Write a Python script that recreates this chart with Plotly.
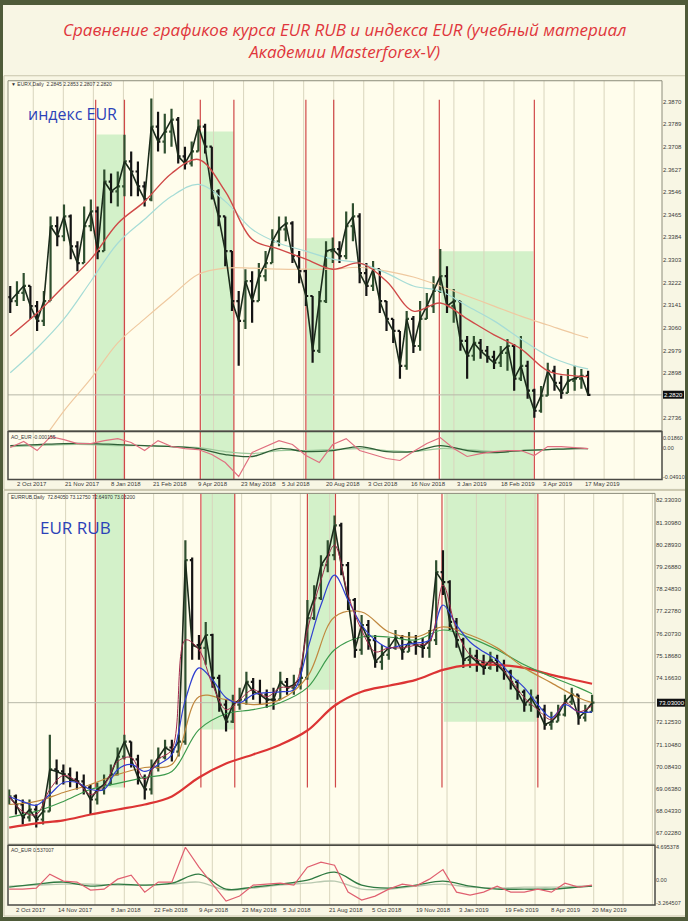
import pandas as pd
import plotly.graph_objects as go

W, H = 688, 921

# ---------------- data ----------------
weeks = pd.date_range("2017-09-27", periods=87, freq="7D")
ma_dates = list(weeks[::4]) + [weeks[86]]
even_dates = list(weeks[::2])

# EUR index (weekly sampled)
eur_first_open = 2.3170
eur_close = [2.3156, 2.3185, 2.3210, 2.3138, 2.3085, 2.3156, 2.3424, 2.3388, 2.3459, 2.3352,
             2.3292, 2.3424, 2.3477, 2.3335, 2.3584, 2.3549, 2.3567, 2.3656, 2.3620, 2.3567,
             2.3520, 2.3781, 2.3727, 2.3763, 2.3806, 2.3674, 2.3649, 2.3692, 2.3781, 2.3709,
             2.3549, 2.3459, 2.3335, 2.3156, 2.3085, 2.3227, 2.3156, 2.3245, 2.3292, 2.3370,
             2.3413, 2.3434, 2.3317, 2.3263, 2.3174, 2.2978, 2.3156, 2.3335, 2.3342, 2.3317,
             2.3424, 2.3459, 2.3256, 2.3210, 2.3270, 2.3156, 2.3092, 2.3049, 2.2924, 2.3092,
             2.2995, 2.3092, 2.3138, 2.3192, 2.3245, 2.3138, 2.3156, 2.3013, 2.2960, 2.3006,
             2.2978, 2.2956, 2.2935, 2.2970, 2.2995, 2.2878, 2.2924, 2.2835, 2.2763, 2.2817,
             2.2906, 2.2863, 2.2827, 2.2870, 2.2878, 2.2888, 2.2820]
eur_high = [2.3210, 2.3227, 2.3256, 2.3210, 2.3156, 2.3192, 2.3459, 2.3459, 2.3502, 2.3466,
            2.3370, 2.3495, 2.3520, 2.3495, 2.3627, 2.3613, 2.3620, 2.3752, 2.3692, 2.3656,
            2.3584, 2.3881, 2.3834, 2.3827, 2.3845, 2.3815, 2.3709, 2.3727, 2.3806, 2.3791,
            2.3709, 2.3556, 2.3459, 2.3335, 2.3192, 2.3270, 2.3263, 2.3292, 2.3335, 2.3413,
            2.3459, 2.3459, 2.3442, 2.3335, 2.3270, 2.3174, 2.3192, 2.3370, 2.3384, 2.3370,
            2.3477, 2.3506, 2.3470, 2.3292, 2.3299, 2.3270, 2.3156, 2.3092, 2.3049, 2.3120,
            2.3102, 2.3156, 2.3185, 2.3245, 2.3342, 2.3281, 2.3199, 2.3156, 2.3031, 2.3031,
            2.3020, 2.2995, 2.2978, 2.2995, 2.3020, 2.3002, 2.3031, 2.2942, 2.2842, 2.2852,
            2.2935, 2.2924, 2.2888, 2.2913, 2.2924, 2.2913, 2.2906]
eur_low = [2.3113, 2.3138, 2.3156, 2.3092, 2.3049, 2.3067, 2.3156, 2.3352, 2.3370, 2.3306,
           2.3263, 2.3292, 2.3406, 2.3306, 2.3335, 2.3506, 2.3495, 2.3531, 2.3531, 2.3531,
           2.3495, 2.3513, 2.3692, 2.3684, 2.3709, 2.3649, 2.3627, 2.3638, 2.3692, 2.3684,
           2.3520, 2.3424, 2.3281, 2.3120, 2.2924, 2.3056, 2.3078, 2.3156, 2.3227, 2.3292,
           2.3352, 2.3370, 2.3292, 2.3220, 2.3138, 2.2935, 2.2970, 2.3149, 2.3292, 2.3292,
           2.3306, 2.3370, 2.3220, 2.3174, 2.3192, 2.3113, 2.3049, 2.3006, 2.2878, 2.2910,
           2.2970, 2.2978, 2.3092, 2.3113, 2.3185, 2.3113, 2.3078, 2.2978, 2.2878, 2.2942,
           2.2949, 2.2935, 2.2913, 2.2920, 2.2906, 2.2835, 2.2870, 2.2806, 2.2738, 2.2756,
           2.2817, 2.2835, 2.2806, 2.2827, 2.2835, 2.2842, 2.2817]
eur_ma_red = [2.3031, 2.3113, 2.3210, 2.3306, 2.3434, 2.3513, 2.3613, 2.3663, 2.3549, 2.3377,
              2.3342, 2.3306, 2.3270, 2.3292, 2.3227, 2.3120, 2.3149, 2.3092, 2.3035, 2.2985,
              2.2906, 2.2888, 2.2885]
eur_ma_cyan = [2.2899, 2.2988, 2.3092, 2.3227, 2.3363, 2.3449, 2.3531, 2.3574, 2.3513, 2.3413,
               2.3363, 2.3335, 2.3306, 2.3292, 2.3256, 2.3210, 2.3192, 2.3138, 2.3085, 2.3020,
               2.2960, 2.2924, 2.2913]
eur_ma_tan = [2.2628, 2.2763, 2.2878, 2.3006, 2.3092, 2.3174, 2.3252, 2.3274, 2.3274, 2.3270,
              2.3270, 2.3270, 2.3277, 2.3263, 2.3242, 2.3210, 2.3174, 2.3138, 2.3102, 2.3070,
              2.3038, 2.3024]
eur_osc_fast = [0.0017, 0.0119, -0.0034, 0.0203, 0.0152, 0.0085, 0.0085, 0.0135, 0.0169, 0.0102,
                -0.0034, 0.0135, 0.0034, 0.0, -0.0017, -0.0102, -0.0237, -0.0474, -0.0068, 0.0034,
                0.0135, 0.0068, -0.0119, -0.0237, 0.0068, 0.0169, -0.0034, -0.0102, -0.0169, -0.0203,
                -0.0051, 0.0085, 0.0186, 0.0, -0.0135, -0.0085, -0.0051, -0.0034, -0.0034, -0.0119,
                0.0034, 0.0034, 0.0017, 0.0]
eur_osc_slow = [0.0051, 0.0068, 0.0085, 0.0085, 0.0068, 0.0051, 0.0034, 0.0, -0.0102, -0.0135,
                0.0, -0.0051, -0.0034, 0.0034, -0.0051, -0.0051, 0.0051, -0.0034, -0.0068, -0.0034,
                -0.0017, 0.0, 0.0]
eur_osc_sig = [0.0034, 0.0051, 0.0068, 0.0068, 0.0051, 0.0051, 0.0034, 0.0017, -0.0051, -0.0085,
               -0.0034, -0.0034, -0.0017, 0.0, -0.0034, -0.0051, 0.0, -0.0017, -0.0051, -0.0034,
               -0.0017, 0.0, 0.0]

# EUR RUB (weekly sampled)
rub_first_open = 68.50
rub_close = [68.72, 68.35, 67.76, 68.12, 67.66, 68.03, 69.96, 69.87, 69.73, 69.50,
             69.41, 69.14, 68.58, 69.04, 69.27, 69.73, 70.55, 71.24, 70.42, 69.59,
             69.04, 70.05, 70.51, 70.97, 70.78, 71.24, 79.58, 75.68, 75.55, 76.14,
             74.17, 72.94, 72.16, 72.94, 73.17, 73.99, 73.53, 73.40, 73.17, 73.17,
             73.99, 73.72, 73.85, 74.17, 76.92, 77.84, 79.35, 79.81, 81.18, 79.35,
             77.75, 75.46, 76.60, 75.91, 74.91, 75.23, 75.55, 76.01, 75.37, 75.82,
             75.68, 75.55, 75.91, 79.03, 78.57, 76.74, 75.91, 75.00, 75.18, 74.91,
             74.63, 75.00, 74.77, 74.45, 73.99, 73.53, 72.94, 73.26, 72.71, 72.02,
             72.16, 72.48, 73.07, 73.40, 72.34, 72.61, 73.03]
rub_high = [69.04, 68.81, 68.58, 68.58, 68.35, 68.58, 71.56, 70.42, 70.19, 70.05,
            69.87, 69.73, 69.27, 69.36, 69.73, 70.19, 70.97, 71.56, 71.24, 70.64,
            69.73, 70.42, 70.97, 71.33, 71.33, 71.56, 80.50, 79.70, 76.14, 76.74,
            76.20, 74.31, 73.17, 73.40, 73.72, 74.45, 74.17, 74.08, 73.63, 73.72,
            74.45, 74.17, 74.31, 74.63, 77.75, 78.43, 79.81, 80.50, 81.64, 81.30,
            79.50, 77.84, 77.06, 76.83, 76.14, 75.68, 76.01, 76.37, 76.14, 76.28,
            76.14, 76.01, 76.37, 79.58, 80.04, 78.66, 76.92, 76.01, 75.55, 75.46,
            75.23, 75.37, 75.23, 75.00, 74.54, 74.08, 73.63, 73.63, 73.40, 72.94,
            72.61, 72.94, 73.40, 73.72, 73.40, 72.94, 73.40]
rub_low = [68.35, 67.89, 67.43, 67.57, 67.29, 67.43, 68.03, 69.27, 69.27, 69.14,
           69.04, 68.81, 67.89, 68.35, 68.81, 69.27, 69.68, 70.42, 70.05, 69.27,
           68.58, 68.81, 69.87, 70.42, 70.33, 70.55, 71.10, 75.00, 75.00, 74.77,
           73.72, 72.61, 71.70, 72.10, 72.71, 72.94, 73.17, 72.94, 72.80, 72.71,
           73.17, 73.40, 73.40, 73.63, 74.08, 76.83, 77.75, 79.03, 79.58, 78.89,
           77.29, 75.09, 75.23, 75.46, 74.63, 74.54, 75.00, 75.46, 75.00, 75.37,
           75.23, 75.09, 75.09, 75.68, 77.98, 76.37, 75.55, 74.63, 74.63, 74.45,
           74.31, 74.54, 74.45, 74.08, 73.63, 73.17, 72.61, 72.61, 72.34, 71.79,
           71.79, 72.16, 72.40, 72.94, 72.02, 72.16, 72.61]
rub_ma200 = [67.29, 67.48, 67.62, 67.89, 68.12, 68.35, 68.72, 69.59, 70.23, 70.65,
             71.10, 71.75, 72.89, 73.53, 73.81, 74.08, 74.54, 74.77, 74.77, 74.63,
             74.31, 74.04, 73.90]
rub_ma100 = [67.76, 68.03, 68.49, 69.04, 69.32, 69.59, 69.87, 71.79, 72.52, 72.71,
             73.03, 73.72, 75.46, 76.05, 76.05, 75.91, 76.37, 76.01, 75.46, 74.77,
             74.22, 73.72, 73.44]
rub_ma50 = [68.35, 68.49, 68.90, 69.27, 69.73, 70.05, 70.19, 73.30, 73.17, 72.94,
            73.17, 74.22, 76.97, 77.20, 76.28, 76.05, 76.51, 76.14, 75.55, 74.63,
            73.94, 73.26, 73.03]
rub_ma20 = [68.72, 68.49, 68.31, 68.81, 69.36, 69.36, 69.04, 69.04, 69.96, 70.19,
            69.87, 70.19, 70.64, 73.17, 74.63, 74.08, 73.26, 73.03, 73.40, 73.49,
            73.53, 73.63, 75.46, 77.52, 78.89, 77.75, 76.60, 75.91, 75.55, 75.68,
            75.77, 75.91, 77.52, 76.60, 75.82, 75.37, 75.00, 74.31, 73.72, 72.94,
            72.34, 72.94, 72.61, 72.61]
rub_ma10 = [68.72, 68.03, 67.89, 69.04, 69.68, 69.41, 68.81, 69.23, 70.33, 70.51,
            69.50, 70.42, 70.88, 75.91, 75.46, 73.85, 72.71, 73.17, 73.63, 73.30,
            73.72, 73.81, 76.37, 78.66, 80.27, 77.98, 76.37, 75.37, 75.55, 75.55,
            75.68, 75.82, 78.43, 76.37, 75.23, 74.91, 74.82, 74.08, 73.26, 72.71,
            72.25, 73.03, 72.61, 72.89]
rub_osc_fast = [-1.28, -1.28, -1.14, 0.85, -0.14, -0.28, -1.42, -1.28, 0.14, 0.71,
                -1.71, -0.28, -0.28, 4.69, 1.85, -0.57, -2.98, -2.27, -0.71, -0.57,
                -0.43, -0.71, 1.85, 2.56, 2.13, -1.71, -2.84, -2.27, -1.28, -0.57,
                -0.85, 0.14, 1.50, -1.71, -2.13, -1.71, -0.85, -1.71, -1.71, -1.28,
                -1.71, -0.43, -0.99, -0.71]
rub_osc_slow = [-0.99, -0.57, -0.28, -0.85, -0.57, -0.71, -0.43, 0.85, -1.28, -0.99,
                -0.57, 0.0, 1.14, -0.71, -1.14, -0.71, -0.14, -0.85, -1.28, -1.28,
                -1.28, -0.99, -0.85]
rub_osc_sig = [-0.85, -0.71, -0.57, -0.57, -0.71, -0.71, -0.57, -0.28, -1.42, -1.14,
               -0.71, -0.43, -0.14, -1.28, -1.28, -0.85, -0.57, -1.0, -1.14, -1.0,
               -1.0, -0.85, -0.85]

# axis labels
eur_ticks = [2.3870, 2.3789, 2.3708, 2.3627, 2.3546, 2.3465, 2.3384, 2.3303, 2.3222,
             2.3141, 2.3060, 2.2979, 2.2898, 2.2736]
rub_ticks = [82.33030, 81.30980, 80.28930, 79.26880, 78.24830, 77.22780, 76.20730,
             75.18680, 74.16630, 72.12530, 71.10480, 70.08430, 69.06380, 68.04330, 67.02280]
eur_osc_ticks = [0.0186, 0.0, -0.0491]
eur_osc_text = ["0.01860", "0.00", "-0.04910"]
rub_osc_ticks = [4.695378, 0.0, -3.264507]
rub_osc_text = ["4.695378", "0.00", "-3.264507"]

top_date_vals = ["2017-10-02", "2017-11-21", "2018-01-08", "2018-02-21", "2018-04-09",
                 "2018-05-23", "2018-07-05", "2018-08-20", "2018-10-03", "2018-11-16",
                 "2019-01-03", "2019-02-18", "2019-04-03", "2019-05-17"]
top_date_text = ["2 Oct 2017", "21 Nov 2017", "8 Jan 2018", "21 Feb 2018", "9 Apr 2018",
                 "23 May 2018", "5 Jul 2018", "20 Aug 2018", "3 Oct 2018", "16 Nov 2018",
                 "3 Jan 2019", "18 Feb 2019", "3 Apr 2019", "17 May 2019"]
bot_date_vals = ["2017-10-02", "2017-11-14", "2018-01-08", "2018-02-22", "2018-04-09",
                 "2018-05-23", "2018-07-05", "2018-08-21", "2018-10-05", "2018-11-19",
                 "2019-01-03", "2019-02-19", "2019-04-08", "2019-05-20"]
bot_date_text = ["2 Oct 2017", "14 Nov 2017", "8 Jan 2018", "22 Feb 2018", "9 Apr 2018",
                 "23 May 2018", "5 Jul 2018", "21 Aug 2018", "5 Oct 2018", "19 Nov 2018",
                 "3 Jan 2019", "19 Feb 2019", "8 Apr 2019", "20 May 2019"]

red_dates = ["2017-12-25", "2018-01-24", "2018-04-13", "2018-05-18",
             "2018-08-01", "2018-08-30", "2018-12-18", "2019-03-27"]
zone_start = ["2017-12-26", "2018-04-14", "2018-08-02", "2018-12-20"]
zone_end = ["2018-01-23", "2018-05-18", "2018-08-29", "2019-03-26"]

eur_last = eur_close[-1]
rub_last = rub_close[-1]

# ---------------- layout helpers ----------------
def px(p):
    return p / W

def py(p):
    return 1 - p / H

TOP_XR = ["2017-09-24 16:00", "2019-08-07"]
BOT_XR = ["2017-09-25 19:00", "2019-07-26"]

eur_open = [eur_first_open] + eur_close[:-1]
rub_open = [rub_first_open] + rub_close[:-1]

fig = go.Figure()

bar_style = dict(
    increasing=dict(line=dict(color="#2f4f2f", width=2.2)),
    decreasing=dict(line=dict(color="#141414", width=2.2)),
    tickwidth=0.35, showlegend=False, hoverinfo="skip",
)

# top chart
fig.add_trace(go.Scatter(x=ma_dates[1:], y=eur_ma_tan, mode="lines", line=dict(color="#efc9a0", width=1.2, shape="spline"), xaxis="x", yaxis="y", showlegend=False))
fig.add_trace(go.Scatter(x=ma_dates, y=eur_ma_cyan, mode="lines", line=dict(color="#a6dcd6", width=1.2, shape="spline"), xaxis="x", yaxis="y", showlegend=False))
fig.add_trace(go.Ohlc(x=weeks, open=eur_open, high=eur_high, low=eur_low, close=eur_close, xaxis="x", yaxis="y", **bar_style))
fig.add_trace(go.Scatter(x=weeks, y=eur_close, mode="lines", line=dict(color="#1b2b1b", width=1.6), xaxis="x", yaxis="y", showlegend=False))
fig.add_trace(go.Scatter(x=ma_dates, y=eur_ma_red, mode="lines", line=dict(color="#cf4a48", width=1.4, shape="spline"), xaxis="x", yaxis="y", showlegend=False))

fig.add_trace(go.Scatter(x=ma_dates, y=eur_osc_sig, mode="lines", line=dict(color="#9cc79a", width=1.2, shape="spline"), xaxis="x2", yaxis="y2", showlegend=False))
fig.add_trace(go.Scatter(x=ma_dates, y=eur_osc_slow, mode="lines", line=dict(color="#2e5e36", width=1.3, shape="spline"), xaxis="x2", yaxis="y2", showlegend=False))
fig.add_trace(go.Scatter(x=even_dates, y=eur_osc_fast, mode="lines", line=dict(color="#e07080", width=1.2), xaxis="x2", yaxis="y2", showlegend=False))

# bottom chart
fig.add_trace(go.Scatter(x=ma_dates, y=rub_ma200, mode="lines", line=dict(color="#dc3434", width=2.2, shape="spline"), xaxis="x3", yaxis="y3", showlegend=False))
fig.add_trace(go.Scatter(x=ma_dates, y=rub_ma100, mode="lines", line=dict(color="#3c9a4c", width=1.2, shape="spline"), xaxis="x3", yaxis="y3", showlegend=False))
fig.add_trace(go.Scatter(x=ma_dates, y=rub_ma50, mode="lines", line=dict(color="#c0883e", width=1.2, shape="spline"), xaxis="x3", yaxis="y3", showlegend=False))
fig.add_trace(go.Ohlc(x=weeks, open=rub_open, high=rub_high, low=rub_low, close=rub_close, xaxis="x3", yaxis="y3", **bar_style))
fig.add_trace(go.Scatter(x=weeks, y=rub_close, mode="lines", line=dict(color="#1b2b1b", width=1.6), xaxis="x3", yaxis="y3", showlegend=False))
fig.add_trace(go.Scatter(x=even_dates, y=rub_ma20, mode="lines", line=dict(color="#2f3fd0", width=1.2, shape="spline"), xaxis="x3", yaxis="y3", showlegend=False))
fig.add_trace(go.Scatter(x=even_dates, y=rub_ma10, mode="lines", line=dict(color="#a0284a", width=1.0, shape="spline"), xaxis="x3", yaxis="y3", showlegend=False))

fig.add_trace(go.Scatter(x=ma_dates, y=rub_osc_sig, mode="lines", line=dict(color="#b9c9b0", width=1.4, shape="spline"), xaxis="x4", yaxis="y4", showlegend=False))
fig.add_trace(go.Scatter(x=ma_dates, y=rub_osc_slow, mode="lines", line=dict(color="#2f7a42", width=1.4, shape="spline"), xaxis="x4", yaxis="y4", showlegend=False))
fig.add_trace(go.Scatter(x=even_dates, y=rub_osc_fast, mode="lines", line=dict(color="#e06070", width=1.2), xaxis="x4", yaxis="y4", showlegend=False))

# ---------------- shapes ----------------
shapes = []
GREEN = "rgba(196,236,190,0.75)"
RED = "#d04848"
GRID = "#d9d5bd"

top_zone_top = [133, 130, 237, 250]
bot_zone_bottom = [788, 730, 690, 722]
for s, e, t in zip(zone_start, zone_end, top_zone_top):
    shapes.append(dict(type="rect", xref="x", yref="paper", x0=s, x1=e, y0=py(479), y1=py(t),
                       fillcolor=GREEN, line=dict(width=0), layer="below"))
for s, e, b in zip(zone_start, zone_end, bot_zone_bottom):
    shapes.append(dict(type="rect", xref="x3", yref="paper", x0=s, x1=e, y0=py(b), y1=py(493),
                       fillcolor=GREEN, line=dict(width=0), layer="below"))

for d in pd.date_range("2017-10-21", "2019-08-06", freq=pd.Timedelta(days=31.3)):
    shapes.append(dict(type="line", xref="x", yref="paper", x0=d, x1=d, y0=py(479), y1=py(79),
                       line=dict(color=GRID, width=1), layer="below"))
for d in pd.date_range("2017-10-25", "2019-07-25", freq=pd.Timedelta(days=30.3)):
    shapes.append(dict(type="line", xref="x3", yref="paper", x0=d, x1=d, y0=py(906), y1=py(493),
                       line=dict(color=GRID, width=1), layer="below"))

for d in red_dates:
    shapes.append(dict(type="line", xref="x", yref="paper", x0=d, x1=d, y0=py(479), y1=py(98),
                       line=dict(color=RED, width=1.2), layer="below"))
    shapes.append(dict(type="line", xref="x3", yref="paper", x0=d, x1=d, y0=py(788), y1=py(493),
                       line=dict(color=RED, width=1.2), layer="below"))

# current price lines
shapes.append(dict(type="line", xref="x", yref="y", x0=TOP_XR[0], x1=TOP_XR[1], y0=eur_last, y1=eur_last,
                   line=dict(color="#b8b8a8", width=1), layer="below"))
shapes.append(dict(type="line", xref="x3", yref="y3", x0=BOT_XR[0], x1=BOT_XR[1], y0=rub_last, y1=rub_last,
                   line=dict(color="#b8b8a8", width=1), layer="below"))

# frames
def frame(x0, y0, x1, y1, color, width, fill="rgba(0,0,0,0)"):
    return dict(type="rect", xref="paper", yref="paper", x0=px(x0), x1=px(x1), y0=py(y1), y1=py(y0),
                line=dict(color=color, width=width), fillcolor=fill, layer="above")

shapes += [
    frame(4, 74, 687, 489, "#c9c5ad", 1),
    frame(4, 490, 687, 917, "#c9c5ad", 1),
    frame(8, 79, 662, 430, "#8c8c7c", 1),
    frame(8, 431, 662, 479, "#4a4a44", 1.5),
    frame(8, 493, 655, 845, "#8c8c7c", 1),
    frame(8, 846, 655, 906, "#4a4a44", 1.5),
    frame(663, 390, 684, 398, "#111111", 0, "#111111"),
    frame(657, 699, 686, 707, "#111111", 0, "#111111"),
    dict(type="rect", xref="paper", yref="paper", x0=0, x1=1, y0=0, y1=1,
         line=dict(color="#4f5b39", width=6), fillcolor="rgba(0,0,0,0)", layer="above"),
]

# ---------------- annotations ----------------
TICKF = dict(family="Liberation Sans", size=6, color="#3a3a3a")
SMALL = dict(family="Liberation Sans", size=6, color="#3a3a3a")
HEAD = dict(family="Liberation Sans", size=5, color="#333333")
ann = []

def note(x, y, text, font, xanchor="left", xref="paper"):
    ann.append(dict(xref=xref, yref="paper", x=x, y=y, xanchor=xanchor, yanchor="middle",
                    showarrow=False, text=text, font=font))

note(0.5, py(39),
     "<i>Сравнение графиков курса EUR RUB и индекса EUR (учебный материал<br>Академии Masterforex-V)</i>",
     dict(family="Open Sans", size=17, color="#e0363c"), xanchor="center")
note(px(26), py(112), "индекс EUR", dict(family="Open Sans", size=16, color="#2c42b8"))
note(px(38), py(527), "EUR RUB", dict(family="Open Sans", size=17, color="#2c42b8"))
note(px(9), py(82), "▼ EURX,Daily  2.2845 2.2853 2.2807 2.2820", HEAD)
note(px(9), py(497), "EURRUB,Daily  72.84050 73.12750 72.64970 73.03200", HEAD)
note(px(9), py(436), "AO_EUR -0.000155", HEAD)
note(px(9), py(851), "AO_EUR 0.537007", HEAD)
note(px(673.5), py(394), "%.4f" % eur_last, dict(family="Liberation Sans", size=6, color="#ffffff"), xanchor="center")
note(px(671.5), py(703), "%.5f" % rub_last, dict(family="Liberation Sans", size=6, color="#ffffff"), xanchor="center")
for d, t in zip(top_date_vals, top_date_text):
    note(d, py(484), t, SMALL, xref="x2")
for d, t in zip(bot_date_vals, bot_date_text):
    note(d, py(911), t, SMALL, xref="x4")

# ---------------- axes ----------------
xbase = dict(type="date", showticklabels=False, showgrid=False, zeroline=False, showline=False,
             ticks="", rangeslider=dict(visible=False), fixedrange=True)
ybase = dict(side="right", showgrid=False, zeroline=False, showline=False, ticks="",
             tickfont=TICKF, fixedrange=True)

fig.update_layout(
    width=W, height=H, margin=dict(l=0, r=0, t=0, b=0),
    paper_bgcolor="#f8f6e4", plot_bgcolor="#fffdec",
    showlegend=False, hovermode=False,
    xaxis=dict(xbase, domain=[px(8), px(662)], range=TOP_XR, anchor="y"),
    yaxis=dict(ybase, domain=[py(430), py(79)], range=[2.2692, 2.3945], anchor="x",
               tickvals=eur_ticks, ticktext=["%.4f" % v for v in eur_ticks]),
    xaxis2=dict(xbase, domain=[px(8), px(662)], range=TOP_XR, anchor="y2"),
    yaxis2=dict(ybase, domain=[py(479), py(432)], range=[-0.0525, 0.0271], anchor="x2",
                tickvals=eur_osc_ticks, ticktext=eur_osc_text,
                tickfont=dict(family="Liberation Sans", size=5.5, color="#3a3a3a")),
    xaxis3=dict(xbase, domain=[px(8), px(655)], range=BOT_XR, anchor="y3"),
    yaxis3=dict(ybase, domain=[py(845), py(493)], range=[66.522, 82.651], anchor="x3",
                tickvals=rub_ticks, ticktext=["%.5f" % v for v in rub_ticks]),
    xaxis4=dict(xbase, domain=[px(8), px(655)], range=BOT_XR, anchor="y4"),
    yaxis4=dict(ybase, domain=[py(906), py(847)], range=[-3.55, 4.83], anchor="x4",
                tickvals=rub_osc_ticks, ticktext=rub_osc_text,
                tickfont=dict(family="Liberation Sans", size=5.5, color="#3a3a3a")),
    shapes=shapes,
    annotations=ann,
)

fig.write_html("out.html", config={"displayModeBar": False},
               post_script="document.body.style.margin='0px';document.body.style.overflow='hidden';")
